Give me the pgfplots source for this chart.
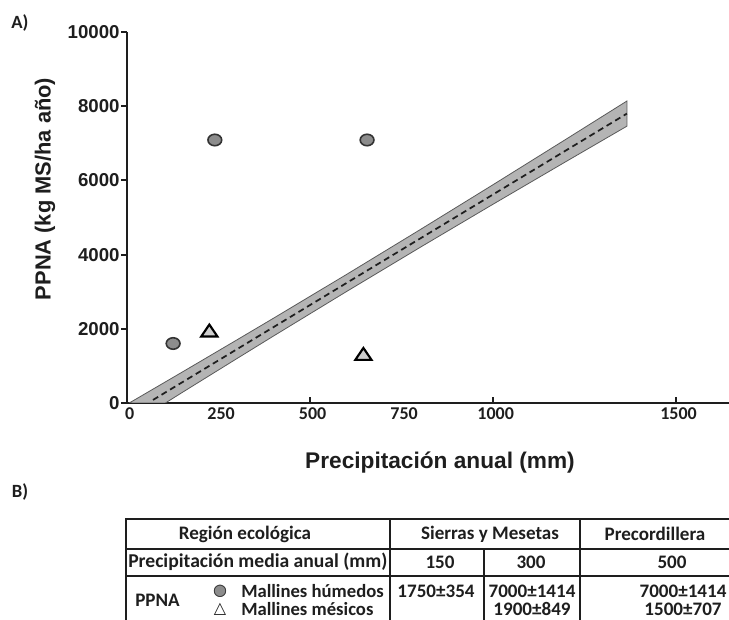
\documentclass[border=0pt]{standalone}
\usepackage{fontspec}
\setmainfont{Carlito}
\newfontfamily\arial{Liberation Sans}
\newfontfamily\dejavu{DejaVu Sans}
\usepackage{pgfplots}
\pgfplotsset{compat=1.18}
\definecolor{ink}{HTML}{1E1E1E}
\definecolor{bandfill}{HTML}{B4B4B4}
\definecolor{bandedge}{HTML}{5A5A5A}
\definecolor{circfill}{HTML}{8C8C8C}
\definecolor{trifill}{HTML}{CFCFCF}
\begin{document}
\begin{tikzpicture}[x=0.75pt,y=0.75pt]
\useasboundingbox (0,0) rectangle (729,620);
\begin{axis}[
  at={(95.25pt,162.75pt)}, anchor=south west,
  scale only axis, width=451.5pt, height=278.25pt,
  xmin=0, xmax=1645, ymin=0, ymax=10000,
  scaled y ticks=false, scaled x ticks=false,
  axis lines=left,
  axis line style={-, line width=2.2pt, draw=ink},
  tick align=inside,
  major tick length=4.5pt,
  xtick={500,1000,1500}, xticklabels={500,1000,1500},
  extra x ticks={0,250,750}, extra x tick labels={0,250,750},
  extra x tick style={major tick length=0pt},
  xtick style={line width=1.2pt, draw=ink},
  ytick={0,2000,4000,6000,8000,10000},
  yticklabels={0,2000,4000,6000,8000,10000},
  ytick style={line width=1.5pt, draw=ink, xshift=-4.5pt},
  xticklabel style={font=\bfseries\fontsize{13.5}{15}\selectfont, text=ink, xshift=2pt},
  yticklabel style={font=\arial\bfseries\fontsize{14}{16}\selectfont, text=ink, xshift=-2pt},
  clip=true,
]
\addplot[fill=bandfill, draw=bandedge, line width=0.6pt] coordinates {
  (6,0) (25,108) (50,252) (100,540) (150,828) (200,1118) (300,1699)
  (400,2283) (600,3465) (800,4666) (1000,5882) (1200,7112) (1366,8139)
  (1366,7461) (1200,6510) (1000,5356) (800,4189) (600,3005) (400,1803)
  (300,1195) (200,584) (150,278) (105,0)
} -- cycle;
\addplot[ink, line width=1.3pt, dash pattern=on 4.5pt off 3pt] coordinates {(71,82) (1366,7800)};
\addplot[only marks, mark=*, mark size=4.3pt,
  mark options={fill=circfill, draw=black!80, line width=1.2pt, xscale=1.2}]
  coordinates {(126,1604) (240,7089) (656,7089)};
\addplot[only marks, mark=triangle*, mark size=7pt,
  mark options={fill=trifill, draw=black, line width=1.6pt, yscale=0.85}]
  coordinates {(225,1900) (646,1270)};
\end{axis}
% axis titles
\node[rotate=90, font=\arial\bfseries\fontsize{16.4}{18}\selectfont, text=ink] at (45,431) {PPNA (kg MS/ha año)};
\node[font=\arial\bfseries\fontsize{17}{19}\selectfont, text=ink] at (440,157) {Precipitación anual (mm)};
\node[font=\bfseries\fontsize{14}{16}\selectfont, text=ink] at (20,597) {A)};
\node[font=\bfseries\fontsize{14}{16}\selectfont, text=ink] at (20,128) {B)};
% table B
\draw[ink, line width=1.8pt] (126,0) -- (126,101) -- (729,101);
\draw[ink, line width=0.8pt] (126,71) -- (729,71);
\draw[ink, line width=0.8pt] (126,44) -- (729,44);
\draw[ink, line width=0.8pt] (390,101) -- (390,0);
\draw[ink, line width=0.8pt] (484,71) -- (484,0);
\draw[ink, line width=0.8pt] (580,101) -- (580,0);
\begin{scope}[every node/.style={font=\bfseries\fontsize{14.3}{16}\selectfont, text=ink, inner sep=0pt}]
\node at (245,86) {Región ecológica};
\node at (490,86) {Sierras y Mesetas};
\node at (655,86) {Precordillera};
\node[anchor=west, font=\bfseries\fontsize{14.7}{16}\selectfont] at (128,58) {Precipitación media anual (mm)};
\node at (440,58) {150};
\node at (531,58) {300};
\node at (672,58) {500};
\node[anchor=west] at (135,20) {PPNA};
\node[font=\dejavu\fontsize{12}{14}\selectfont, text=circfill] at (220,29) {●};
\node[font=\dejavu\fontsize{12}{14}\selectfont, text=black!80] at (220,29) {○};
\node[font=\dejavu\bfseries\fontsize{12}{14}\selectfont] at (220,11) {△};
\node[anchor=west, font=\bfseries\fontsize{14}{16}\selectfont] at (241,29) {Mallines húmedos};
\node[anchor=west, font=\bfseries\fontsize{14}{16}\selectfont] at (241,11) {Mallines mésicos};
\node at (436,29) {1750±354};
\node at (532,29) {7000±1414};
\node at (683,29) {7000±1414};
\node at (532,11) {1900±849};
\node at (683,11) {1500±707};
\end{scope}
\end{tikzpicture}
\end{document}
